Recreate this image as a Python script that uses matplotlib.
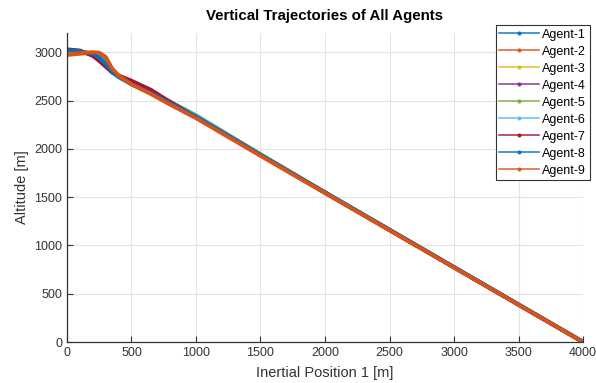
import numpy as np
import matplotlib
matplotlib.use('Agg')
import matplotlib.pyplot as plt
from matplotlib.lines import Line2D

plt.rcParams['font.family'] = ['Liberation Sans', 'DejaVu Sans']

# 轨迹数据
agents = ['Agent-1', 'Agent-2', 'Agent-3', 'Agent-4', 'Agent-5',
          'Agent-6', 'Agent-7', 'Agent-8', 'Agent-9']
colors = ['#0072BD', '#D95319', '#EDB120', '#7E2F8E', '#77AC30',
          '#4DBEEE', '#A2142F', '#0072BD', '#D95319']

pos_x = [0, 100, 200, 250, 300, 350, 400, 500, 650, 800, 1000,
         1500, 2000, 2500, 3000, 3500, 4000]

alt_1 = [3010, 3005, 2980, 2930, 2860, 2790, 2745, 2675, 2580, 2475, 2335, 1940, 1550, 1163, 776, 389, 2]
alt_2 = [2972, 2985, 2995, 2988, 2935, 2820, 2755, 2670, 2572, 2462, 2322, 1932, 1545, 1159, 773, 386, 0]
alt_3 = [3000, 3002, 2990, 2955, 2890, 2805, 2750, 2678, 2585, 2480, 2340, 1942, 1549, 1161, 774, 387, 0]
alt_4 = [3015, 3010, 2975, 2925, 2860, 2795, 2755, 2690, 2595, 2480, 2338, 1938, 1547, 1160, 774, 387, 0]
alt_5 = [3000, 3000, 2990, 2960, 2900, 2810, 2750, 2680, 2590, 2488, 2348, 1944, 1550, 1162, 775, 388, 1]
alt_6 = [3005, 3003, 2985, 2945, 2875, 2800, 2745, 2672, 2582, 2478, 2342, 1941, 1549, 1162, 775, 388, 2]
alt_7 = [3030, 3018, 2962, 2910, 2850, 2795, 2760, 2705, 2612, 2485, 2330, 1936, 1546, 1160, 773, 387, 0]
alt_8 = [3020, 3010, 2985, 2945, 2880, 2800, 2745, 2668, 2578, 2472, 2334, 1938, 1548, 1161, 775, 388, 2]
alt_9 = [2978, 2990, 3000, 2995, 2952, 2832, 2760, 2668, 2568, 2458, 2318, 1928, 1542, 1157, 771, 385, 0]

altitudes = [alt_1, alt_2, alt_3, alt_4, alt_5, alt_6, alt_7, alt_8, alt_9]

fig = plt.figure(figsize=(5.96, 3.83), dpi=100)
ax = fig.add_axes([0.1124, 0.107, 0.8658, 0.807])

for name, c, alt in zip(agents, colors, altitudes):
    ax.plot(pos_x, alt, color=c, lw=2.8, solid_capstyle='round',
            solid_joinstyle='round')

ax.set_xlim(0, 4000)
ax.set_ylim(0, 3200)
ax.set_xticks(np.arange(0, 4001, 500))
ax.set_yticks(np.arange(0, 3001, 500))
ax.grid(True, color='#e3e3e3', lw=0.8)
ax.set_axisbelow(True)
for s in ['top', 'right']:
    ax.spines[s].set_visible(False)
for s in ['left', 'bottom']:
    ax.spines[s].set_color('#333333')
    ax.spines[s].set_linewidth(0.9)
ax.tick_params(direction='in', length=4, width=0.8, colors='#333333',
               labelsize=9, labelcolor='#333333')

ax.set_title('Vertical Trajectories of All Agents', fontsize=10.8,
             fontweight='bold', pad=9)
ax.set_xlabel('Inertial Position 1 [m]', fontsize=10.5, color='#333333', labelpad=5)
ax.set_ylabel('Altitude [m]', fontsize=10.5, color='#333333', labelpad=4)

handles = [Line2D([0], [0], color=c, lw=1.2, marker='.', markersize=4, alpha=0.85)
           for c in colors]
leg = ax.legend(handles, agents, loc='upper right',
                bbox_to_anchor=(0.990, 0.935), bbox_transform=fig.transFigure,
                fontsize=9, frameon=True, fancybox=False, framealpha=1,
                edgecolor='#333333', handlelength=3.2, handletextpad=0.25,
                labelspacing=0.4, borderpad=0.3, borderaxespad=0)
leg.get_frame().set_linewidth(0.8)

fig.savefig('out.png', dpi=100)
